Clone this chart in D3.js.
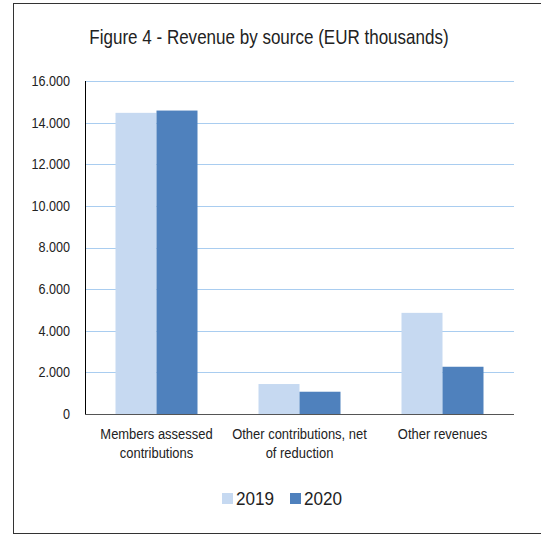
<!DOCTYPE html>
<html>
<head>
<meta charset="utf-8">
<script src="https://cdn.jsdelivr.net/npm/d3@7"></script>
<style>
  body { margin: 0; background: #fff; }
  text { font-family: "Liberation Sans", Arial, sans-serif; fill: #222; }
</style>
</head>
<body>
<div id="chart"></div>
<script>
// data (EUR thousands)
var categories = [["Members assessed", "contributions"], ["Other contributions, net", "of reduction"], ["Other revenues"]];
var series = ["2019", "2020"];
var values2019 = [14470, 1440, 4860];
var values2020 = [14580, 1070, 2270];
var yTicks = [0, 2000, 4000, 6000, 8000, 10000, 12000, 14000, 16000];
var colors = ["#c6d9f1", "#4f81bd"];

var W = 541, H = 535;
var margin = {top: 81, right: 27, bottom: 121, left: 85},
    width = W - margin.left - margin.right,
    height = H - margin.top - margin.bottom;

// squeeze text horizontally to mimic the narrow font of the original
function narrow(sel, f) {
  sel.each(function() {
    var len = this.getComputedTextLength();
    d3.select(this).attr("textLength", len * f).attr("lengthAdjust", "spacingAndGlyphs");
  });
}

var root = d3.select("#chart").append("svg")
    .attr("width", W).attr("height", H);

// outer frame
root.append("rect")
    .attr("x", 13.5).attr("y", 3.5)
    .attr("width", W - 13).attr("height", 530)
    .attr("fill", "none").attr("stroke", "#333").attr("stroke-width", 1);

root.append("text")
    .attr("x", 269).attr("y", 44)
    .attr("text-anchor", "middle")
    .style("font-size", "21px")
    .text("Figure 4 - Revenue by source (EUR thousands)")
    .call(narrow, 0.81);

var svg = root.append("g")
    .attr("transform", "translate(" + margin.left + "," + margin.top + ")");

var x = d3.scaleBand()
    .domain(d3.range(categories.length))
    .range([0, width])
    .padding(0);

var x1 = d3.scaleBand()
    .domain(series)
    .range([0, 82])
    .padding(0);

var y = d3.scaleLinear()
    .domain([0, 16000])
    .range([height, 0]);

// gridlines
svg.append("g")
  .selectAll("line")
  .data(yTicks.slice(1))
  .enter().append("line")
    .attr("x1", 0).attr("x2", width)
    .attr("y1", d => Math.round(y(d)) + 0.5)
    .attr("y2", d => Math.round(y(d)) + 0.5)
    .attr("stroke", "#a9cdf0").attr("stroke-width", 1);

// y axis labels
var yAxis = svg.append("g")
    .call(d3.axisLeft(y).tickValues(yTicks).tickSize(0).tickPadding(15)
      .tickFormat(d => d3.format(",")(d).replace(/,/g, ".")));
yAxis.select(".domain").remove();
yAxis.selectAll("text").style("font-size", "14px").style("font-family", null)
    .call(narrow, 0.9);

// bars
var data = [];
categories.forEach(function(c, i) {
  data.push({cat: i, s: "2019", v: values2019[i]});
  data.push({cat: i, s: "2020", v: values2020[i]});
});

svg.selectAll("rect.bar")
  .data(data)
  .enter().append("rect")
    .attr("class", "bar")
    .attr("x", d => x(d.cat) + (x.bandwidth() - 82) / 2 + x1(d.s))
    .attr("y", d => y(d.v))
    .attr("width", x1.bandwidth())
    .attr("height", d => height - y(d.v))
    .attr("fill", d => colors[series.indexOf(d.s)]);

// axis lines
svg.append("line")
    .attr("x1", 0.5).attr("x2", 0.5).attr("y1", 0).attr("y2", height)
    .attr("stroke", "#000");
svg.append("line")
    .attr("x1", 0).attr("x2", width).attr("y1", height + 0.5).attr("y2", height + 0.5)
    .attr("stroke", "#555");

// category labels, one text per line
categories.forEach(function(lines, i) {
  lines.forEach(function(t, j) {
    svg.append("text")
      .attr("x", x(i) + x.bandwidth() / 2)
      .attr("y", height + 25 + j * 19)
      .attr("text-anchor", "middle")
      .style("font-size", "14px")
      .text(t)
      .call(narrow, 0.925);
  });
});

// legend
var legend = root.append("g");
var lx = [222, 290];
series.forEach(function(s, i) {
  legend.append("rect")
    .attr("x", lx[i]).attr("y", 493)
    .attr("width", 11).attr("height", 11)
    .attr("fill", colors[i]);
  legend.append("text")
    .attr("x", lx[i] + 14).attr("y", 505)
    .style("font-size", "19px")
    .text(s)
    .call(narrow, 0.9);
});
</script>
</body>
</html>
